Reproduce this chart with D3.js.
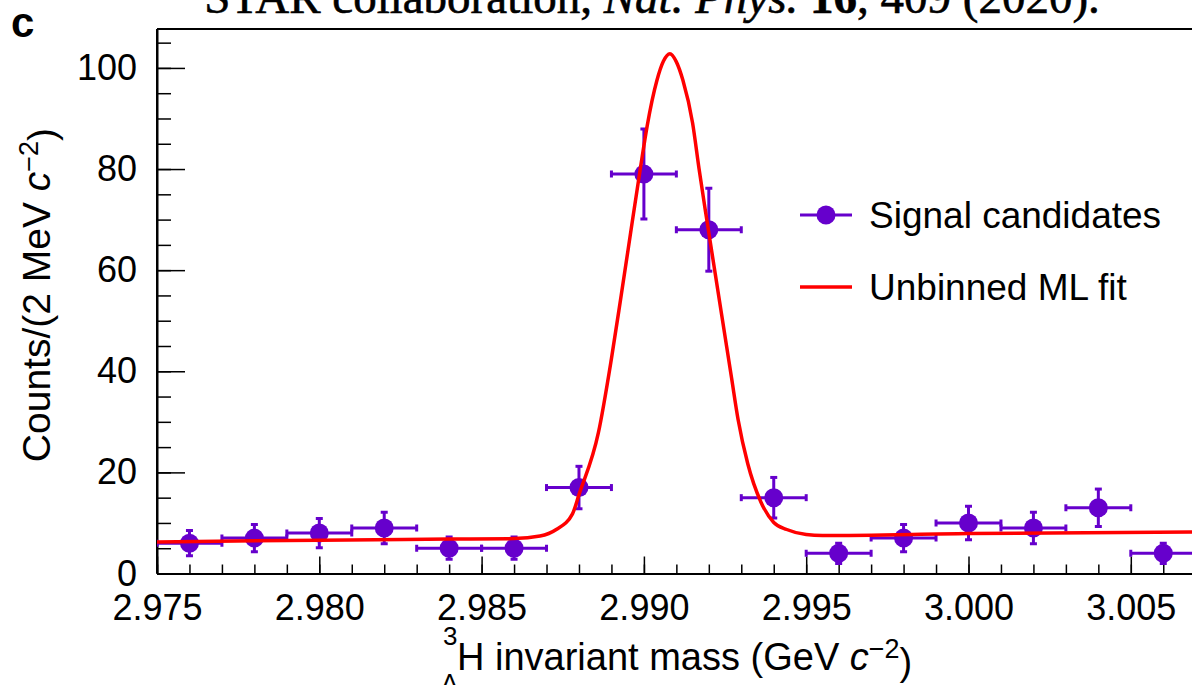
<!DOCTYPE html>
<html>
<head>
<meta charset="utf-8">
<script src="https://cdn.jsdelivr.net/npm/d3@7"></script>
<style>
  html, body { margin: 0; padding: 0; background: #fff; }
  svg { display: block; }
  text { font-family: "Liberation Sans", Arial, Helvetica, sans-serif; }
</style>
</head>
<body>
<svg id="chart" width="1192" height="685"></svg>
<script>
// hypertriton invariant mass spectrum
const binCenters = [2.976, 2.978, 2.980, 2.982, 2.984, 2.986, 2.988, 2.990,
                    2.992, 2.994, 2.996, 2.998, 3.000, 3.002, 3.004, 3.006];
const counts = [6, 7, 8, 9, 5, 5, 17, 79, 68, 15, 4, 7, 10, 9, 13, 4];
const countErrors = [2.5, 2.7, 2.9, 3.1, 2.2, 2.2, 4.2, 8.9, 8.2, 4.0, 2.0, 2.7, 3.3, 3.1, 3.7, 2.0];
const binHalfWidth = 0.001;

// unbinned ML fit, sampled by eye along the red curve
const fitMass = [2.975, 2.980, 2.984, 2.986, 2.9868, 2.9873, 2.9878, 2.9880, 2.9886,
                 2.9890, 2.9893, 2.9895, 2.9899, 2.9901, 2.9904, 2.9906, 2.9908,
                 2.9910, 2.9912, 2.9915, 2.9917, 2.9919, 2.9922, 2.9924, 2.9927,
                 2.9929, 2.9932, 2.9936, 2.9940, 2.9944, 2.9950, 2.9955, 3.000, 3.007];
const fitCounts = [6.25, 6.6, 6.8, 6.9, 7.4, 8.7, 11.8, 15.6, 27.9,
                   42.5, 55.0, 63.5, 80.5, 88.5, 97.5, 101.3, 102.8,
                   101.2, 97.6, 89.1, 80.0, 71.5, 59.2, 51.0, 38.7,
                   30.5, 21.7, 14.2, 10.1, 8.7, 7.7, 7.5, 7.9, 8.2];

const xMajorTicks = [2.975, 2.980, 2.985, 2.990, 2.995, 3.000, 3.005];
const xTickLabels = ["2.975", "2.980", "2.985", "2.990", "2.995", "3.000", "3.005"];
const xMinorTicks = d3.range(2.975, 3.0075, 0.001);
const yMajorTicks = [0, 20, 40, 60, 80, 100];
const yMinorTicks = d3.range(0, 106, 5);

const legendLabels = ["Signal candidates", "Unbinned ML fit"];

const PURPLE = "#6600cc";
const RED = "#ff0000";

class MassPlot {
    constructor(svg) {
        this.svg = svg;
        this.left = 157;
        this.top = 29;
        this.bottom = 573.5;
        this.x = d3.scaleLinear().domain([2.975, 3.007]).range([this.left, this.left + 32 * 32.46]);
        this.y = d3.scaleLinear().domain([0, 107.7]).range([this.bottom, this.top]);
    }

    draw() {
        this.drawHeader();
        this.drawAxes();
        this.drawPoints();
        this.drawFit();
        this.drawLegend();
        this.drawLabels();
    }

    drawHeader() {
        // citation line, cut off at the top of the image
        const t = this.svg.append("text")
            .attr("x", 652).attr("y", 13)
            .attr("text-anchor", "middle")
            .attr("stroke", "#000").attr("stroke-width", 0.6)
            .style("font-family", "'Liberation Serif', 'Times New Roman', serif")
            .style("font-size", "47px");
        t.append("tspan").text("STAR collaboration, ");
        t.append("tspan").style("font-style", "italic").text("Nat. Phys. ");
        t.append("tspan").style("font-weight", "bold").text("16");
        t.append("tspan").text(", 409 (2020).");

        this.svg.append("text")
            .attr("x", 11).attr("y", 37)
            .style("font-size", "42px").style("font-weight", "bold")
            .text("c");
    }

    drawAxes() {
        const svg = this.svg;

        // frame top
        svg.append("line")
            .attr("x1", this.left).attr("x2", 1192)
            .attr("y1", this.top).attr("y2", this.top)
            .attr("stroke", "#000").attr("stroke-width", 2);

        const xMinor = svg.append("g").attr("transform", `translate(0,${this.bottom})`)
            .call(d3.axisBottom(this.x).tickValues(xMinorTicks).tickSize(-9).tickSizeOuter(0).tickFormat(""));
        const xMajor = svg.append("g").attr("transform", `translate(0,${this.bottom})`)
            .call(d3.axisBottom(this.x).tickValues(xMajorTicks).tickSize(-17).tickSizeOuter(0)
                .tickPadding(21).tickFormat((d, i) => xTickLabels[i]));

        const yMinor = svg.append("g").attr("transform", `translate(${this.left},0)`)
            .call(d3.axisLeft(this.y).tickValues(yMinorTicks).tickSize(-14).tickSizeOuter(0).tickFormat(""));
        const yMajor = svg.append("g").attr("transform", `translate(${this.left},0)`)
            .call(d3.axisLeft(this.y).tickValues(yMajorTicks).tickSize(-28).tickSizeOuter(0)
                .tickPadding(20).tickFormat(d3.format("d")));

        [xMinor, xMajor, yMinor, yMajor].forEach(g => {
            g.selectAll(".domain").attr("stroke", "#000").attr("stroke-width", 2);
            g.selectAll(".tick line").attr("stroke", "#000").attr("stroke-width", 1.5);
            g.selectAll("text").attr("fill", "#000")
                .style("font-size", "36px")
                .style("font-family", "'Liberation Sans', Arial, sans-serif");
        });
        yMajor.selectAll(".domain").attr("d", `M0,${this.top}V${this.bottom}`);
    }

    clip() {
        if (!this.clipId) {
            this.clipId = "plot-clip";
            this.svg.append("clipPath").attr("id", this.clipId)
                .append("rect")
                .attr("x", this.left).attr("y", this.top)
                .attr("width", 1192 - this.left).attr("height", this.bottom - this.top);
        }
        return `url(#${this.clipId})`;
    }

    drawPoints() {
        const x = this.x, y = this.y;
        const data = binCenters.map((m, i) => ({ m, c: counts[i], e: countErrors[i] }));
        const g = this.svg.append("g").attr("clip-path", this.clip());
        const cap = 3.5;

        const pt = g.selectAll("g.pt").data(data).join("g").attr("class", "pt")
            .attr("stroke", PURPLE).attr("stroke-width", 3);

        pt.append("line")
            .attr("x1", d => x(d.m - binHalfWidth)).attr("x2", d => x(d.m + binHalfWidth))
            .attr("y1", d => y(d.c)).attr("y2", d => y(d.c));
        pt.append("line")
            .attr("x1", d => x(d.m)).attr("x2", d => x(d.m))
            .attr("y1", d => y(d.c - d.e)).attr("y2", d => y(d.c + d.e));

        // caps
        [-1, 1].forEach(s => {
            pt.append("line")
                .attr("x1", d => x(d.m + s * binHalfWidth)).attr("x2", d => x(d.m + s * binHalfWidth))
                .attr("y1", d => y(d.c) - cap).attr("y2", d => y(d.c) + cap);
            pt.append("line")
                .attr("x1", d => x(d.m) - cap).attr("x2", d => x(d.m) + cap)
                .attr("y1", d => y(d.c + s * d.e)).attr("y2", d => y(d.c + s * d.e));
        });

        pt.append("circle")
            .attr("cx", d => x(d.m)).attr("cy", d => y(d.c))
            .attr("r", 9.5).attr("fill", PURPLE).attr("stroke", "none");
    }

    drawFit() {
        const line = d3.line()
            .x((d, i) => this.x(fitMass[i]))
            .y(d => this.y(d))
            .curve(d3.curveMonotoneX);
        this.svg.append("path")
            .attr("clip-path", this.clip())
            .attr("d", line(fitCounts))
            .attr("fill", "none")
            .attr("stroke", RED).attr("stroke-width", 3.5);
    }

    drawLegend() {
        const g = this.svg.append("g").attr("transform", "translate(800,215)");
        g.append("line").attr("x1", 0).attr("x2", 52).attr("y1", 0).attr("y2", 0)
            .attr("stroke", PURPLE).attr("stroke-width", 3);
        g.append("circle").attr("cx", 26).attr("cy", 0).attr("r", 9.5).attr("fill", PURPLE);
        g.append("line").attr("x1", 0).attr("x2", 52).attr("y1", 72).attr("y2", 72)
            .attr("stroke", RED).attr("stroke-width", 3.5);
        g.selectAll("text.leg").data(legendLabels).join("text").attr("class", "leg")
            .attr("x", 69).attr("y", (d, i) => i * 72)
            .attr("dy", "0.36em")
            .style("font-size", "37px")
            .text(d => d);
    }

    drawLabels() {
        const svg = this.svg;

        // y axis title
        const yt = svg.append("text")
            .attr("transform", "translate(50,295) rotate(-90)")
            .attr("text-anchor", "middle")
            .style("font-size", "39px");
        yt.append("tspan").text("Counts/(2 MeV ");
        yt.append("tspan").style("font-style", "italic").text("c");
        yt.append("tspan").attr("dy", "-0.45em").style("font-size", "27px").text("\u22122");
        yt.append("tspan").attr("dy", "0.45em").text(")");

        // x axis title with hypertriton symbol
        svg.append("text").attr("x", 443).attr("y", 645)
            .style("font-size", "26px").text("3");
        svg.append("text").attr("x", 441).attr("y", 692)
            .style("font-size", "26px").text("\u039b");
        const xt = svg.append("text")
            .attr("x", 457).attr("y", 670)
            .style("font-size", "38px");
        xt.append("tspan").text("H invariant mass (GeV ");
        xt.append("tspan").style("font-style", "italic").text("c");
        xt.append("tspan").attr("dy", "-0.45em").style("font-size", "27px").text("\u22122");
        xt.append("tspan").attr("dy", "0.45em").text(")");
    }
}

const plot = new MassPlot(d3.select("#chart"));
plot.draw();
</script>
</body>
</html>
